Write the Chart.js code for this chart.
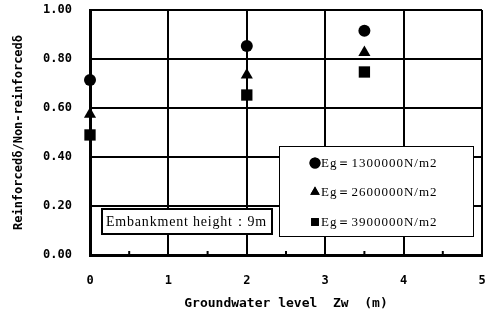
<!DOCTYPE html>
<html>
<head>
<meta charset="utf-8">
<script src="https://cdn.jsdelivr.net/npm/chart.js@4/dist/chart.umd.min.js"></script>
<style>
  html, body { margin: 0; padding: 0; background: #fff; }
  #wrap { width: 491px; height: 320px; }
</style>
</head>
<body>
<div id="wrap"><canvas id="chart"></canvas></div>
<script>
// values
var levels = [0, 2, 3.5];
var eg1300 = [0.714, 0.853, 0.915];
var eg2600 = [0.575, 0.735, 0.827];
var eg3900 = [0.490, 0.653, 0.747];
var seriesLabels = ['Eg\uFF1D1300000N/m2', 'Eg\uFF1D2600000N/m2', 'Eg\uFF1D3900000N/m2'];
var seriesStyles = ['circle', 'triangle', 'rect'];
var xTicks = [0, 1, 2, 3, 4, 5];
var yTicks = [0, 0.2, 0.4, 0.6, 0.8, 1.0];
var noteText = 'Embankment height\uFF1A9m';

var tickFont = { family: 'DejaVu Sans Mono', size: 12, weight: 'bold' };
var serif = '"Liberation Serif", "DejaVu Serif", serif';

function pts(ys) {
  return levels.map(function(x, i){ return { x: x, y: ys[i] }; });
}

var sets = [eg1300, eg2600, eg3900].map(function(ys, i){
  return {
    label: seriesLabels[i],
    data: pts(ys),
    pointStyle: seriesStyles[i],
    pointRadius: [6, 7, 8][i],
    backgroundColor: '#000',
    borderColor: '#000',
    borderWidth: 0,
    showLine: false,
    clip: false
  };
});

// boxes and minor ticks drawn on top of the plot
var boxes = {
  id: 'boxes',
  afterDatasetsDraw: function(chart){
    var c = chart.ctx, a = chart.chartArea, xs = chart.scales.x;
    c.save();
    // minor ticks on the bottom axis
    c.strokeStyle = '#000';
    c.lineWidth = 2;
    for (var m = 0.5; m < 5; m++) {
      var px = xs.getPixelForValue(m);
      c.beginPath(); c.moveTo(px, a.bottom); c.lineTo(px, a.bottom - 4); c.stroke();
    }
    // legend box
    c.fillStyle = '#fff';
    c.fillRect(279, 146, 194, 90);
    c.lineWidth = 1;
    c.strokeRect(279.5, 146.5, 194, 90);
    var rows = [163, 192, 222];
    c.font = '13px ' + serif;
    c.letterSpacing = '1px';
    c.textBaseline = 'middle';
    sets.forEach(function(ds, i){
      c.fillStyle = '#000';
      Chart.helpers.drawPoint(c, { pointStyle: ds.pointStyle, radius: 5.5, rotation: 0, borderWidth: 0 }, 315, rows[i]);
      c.fill();
      c.fillText(ds.label, 321, rows[i] + 1);
    });
    // note box
    c.fillStyle = '#fff';
    c.fillRect(101, 208, 172, 27);
    c.lineWidth = 2;
    c.strokeRect(102, 209, 170, 25);
    c.fillStyle = '#000';
    c.font = '14px ' + serif;
    c.letterSpacing = '0.8px';
    c.fillText(noteText, 106, 222);
    c.restore();
  }
};

new Chart(document.getElementById('chart'), {
  type: 'scatter',
  data: { datasets: sets },
  options: {
    responsive: true,
    maintainAspectRatio: false,
    animation: false,
    layout: { padding: { top: 10, right: 9, left: 0, bottom: 0 } },
    plugins: { legend: { display: false }, tooltip: { enabled: false } },
    scales: {
      x: {
        type: 'linear', min: 0, max: 5,
        afterBuildTicks: function(s){ s.ticks = xTicks.map(function(v){ return { value: v }; }); },
        afterFit: function(s){ s.height = 65; s.paddingLeft = 0; s.paddingRight = 0; },
        grid: { color: '#000', lineWidth: 2, drawTicks: false },
        border: { color: '#000', width: 3 },
        ticks: { color: '#000', font: tickFont, padding: 19 },
        title: { display: true, text: 'Groundwater level  Zw  (m)', color: '#000', font: { family: 'DejaVu Sans Mono', size: 13, weight: 'bold' }, padding: { top: 0, bottom: 9 } }
      },
      y: {
        type: 'linear', min: 0, max: 1,
        afterBuildTicks: function(s){ s.ticks = yTicks.map(function(v){ return { value: v }; }); },
        afterFit: function(s){ s.width = 90; s.paddingTop = 0; s.paddingBottom = 0; },
        grid: { color: '#000', lineWidth: 2, drawTicks: false },
        border: { color: '#000', width: 3 },
        ticks: { color: '#000', font: tickFont, padding: 18, callback: function(v){ return v.toFixed(2); } },
        title: { display: true, text: 'Reinforced\u03B4/Non-reinforced\u03B4', color: '#000', font: { family: 'DejaVu Sans Mono', size: 12, weight: 'bold' }, padding: { bottom: 0, top: 12 } }
      }
    }
  },
  plugins: [boxes]
});
</script>
</body>
</html>
